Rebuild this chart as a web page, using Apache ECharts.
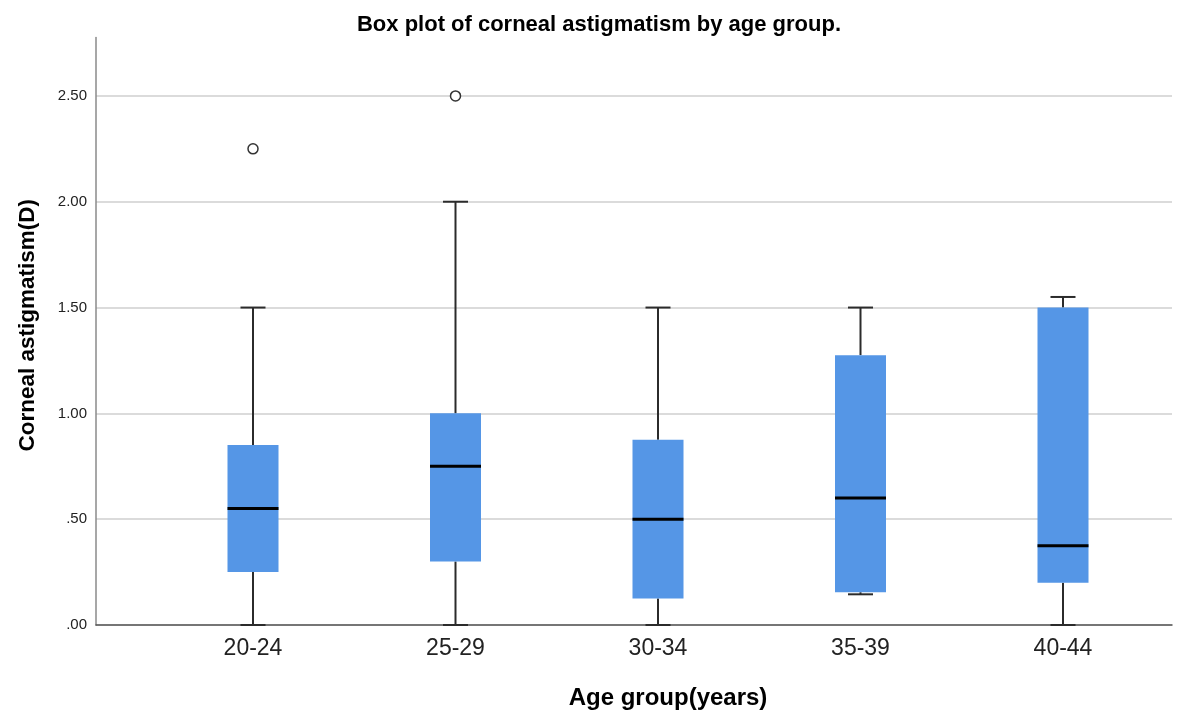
<!DOCTYPE html>
<html>
<head>
<meta charset="utf-8">
<script src="https://cdn.jsdelivr.net/npm/echarts@6/dist/echarts.min.js"></script>
<style>html,body{margin:0;padding:0;background:#fff}#c{width:1181px;height:711px}</style>
</head>
<body>
<div id="c"></div>
<script>
const categories = ['20-24', '25-29', '30-34', '35-39', '40-44'];
const whiskerMin = [0, 0, 0, 0.145, 0];
const q1 = [0.25, 0.30, 0.125, 0.155, 0.20];
const medians = [0.55, 0.75, 0.50, 0.60, 0.375];
const q3 = [0.85, 1.00, 0.875, 1.275, 1.50];
const whiskerMax = [1.50, 2.00, 1.50, 1.50, 1.55];
const outlierGroups = [0, 1];
const outlierValues = [2.25, 2.50];
const yTicks = [0, 0.5, 1.0, 1.5, 2.0, 2.5];

const boxData = categories.map((c, i) => [i, whiskerMin[i], q1[i], medians[i], q3[i], whiskerMax[i]]);
const outlierData = outlierGroups.map((g, i) => [g, outlierValues[i]]);

const FONT = '"Liberation Sans", Arial, sans-serif';
const Y_MAX = 2.776;

function renderBox(params, api) {
  const x = api.value(0);
  const pMin = api.coord([x, api.value(1)]);
  const pQ1 = api.coord([x, api.value(2)]);
  const pMed = api.coord([x, api.value(3)]);
  const pQ3 = api.coord([x, api.value(4)]);
  const pMax = api.coord([x, api.value(5)]);
  const cx = pMin[0];
  const bw = 51, cw = 25;
  const lineStyle = { stroke: '#2b2b2b', lineWidth: 2 };
  return {
    type: 'group',
    children: [
      { type: 'line', shape: { x1: cx, y1: pMin[1], x2: cx, y2: pQ1[1] }, style: lineStyle },
      { type: 'line', shape: { x1: cx, y1: pQ3[1], x2: cx, y2: pMax[1] }, style: lineStyle },
      { type: 'line', shape: { x1: cx - cw / 2, y1: pMin[1], x2: cx + cw / 2, y2: pMin[1] }, style: lineStyle },
      { type: 'line', shape: { x1: cx - cw / 2, y1: pMax[1], x2: cx + cw / 2, y2: pMax[1] }, style: lineStyle },
      { type: 'rect', shape: { x: cx - bw / 2, y: pQ3[1], width: bw, height: pQ1[1] - pQ3[1] }, style: { fill: '#5596e6', stroke: null } },
      { type: 'line', shape: { x1: cx - bw / 2, y1: pMed[1], x2: cx + bw / 2, y2: pMed[1] }, style: { stroke: '#000', lineWidth: 3 } }
    ]
  };
}

const chart = echarts.init(document.getElementById('c'), null, { renderer: 'canvas' });
chart.setOption({
  animation: false,
  backgroundColor: '#fff',
  title: {
    text: 'Box plot of corneal astigmatism by age group.',
    left: 594, top: 9, textAlign: 'center',
    textStyle: { fontFamily: FONT, fontSize: 22, fontWeight: 'bold', color: '#000' }
  },
  grid: [
    { left: 96, right: 9, top: 37.5, bottom: 86, outerBoundsMode: 'none', containLabel: false },
    { left: 151.75, right: 16.75, top: 37.5, bottom: 86, outerBoundsMode: 'none', containLabel: false }
  ],
  xAxis: [
    {
      type: 'value', gridIndex: 0, min: 0, max: 1,
      axisLine: { show: true, lineStyle: { color: '#555', width: 1.5 } },
      axisTick: { show: false }, axisLabel: { show: false }, splitLine: { show: false }
    },
    {
      type: 'category', gridIndex: 1, data: categories, boundaryGap: true,
      axisLine: { show: false }, axisTick: { show: false },
      axisLabel: { fontFamily: FONT, fontSize: 23, color: '#222', margin: 12 },
      name: 'Age group(years)', nameLocation: 'middle', nameGap: 61,
      nameTextStyle: { fontFamily: FONT, fontSize: 24, fontWeight: 'bold', color: '#000', padding: [0, 0, 0, 20] }
    }
  ],
  yAxis: [
    {
      type: 'value', gridIndex: 0, min: 0, max: Y_MAX, interval: 0.5,
      axisLine: { show: true, lineStyle: { color: '#8a8a8a', width: 1.5 } },
      axisTick: { show: false },
      axisLabel: {
        fontFamily: FONT, fontSize: 15, color: '#222', margin: 9,
        showMaxLabel: false,
        formatter: v => yTicks.some(t => Math.abs(t - v) < 1e-9) ? v.toFixed(2).replace(/^0/, '') : ''
      },
      splitLine: { show: true, showMaxLine: false, lineStyle: { color: '#cfcfcf', width: 1.5 } },
      name: 'Corneal astigmatism(D)', nameLocation: 'middle', nameGap: 57,
      nameTextStyle: { fontFamily: FONT, fontSize: 22.5, fontWeight: 'bold', color: '#000', padding: [0, 0, 0, 12] }
    },
    {
      type: 'value', gridIndex: 1, min: 0, max: Y_MAX, interval: 0.5, show: false
    }
  ],
  series: [
    {
      type: 'custom', xAxisIndex: 1, yAxisIndex: 1,
      renderItem: renderBox, data: boxData,
      encode: { x: 0, y: [1, 2, 3, 4, 5] }, z: 3
    },
    {
      type: 'scatter', xAxisIndex: 1, yAxisIndex: 1, data: outlierData,
      symbol: 'circle', symbolSize: 10,
      itemStyle: { color: '#fff', borderColor: '#333', borderWidth: 1.5, opacity: 1 }, z: 4
    }
  ]
});
</script>
</body>
</html>
